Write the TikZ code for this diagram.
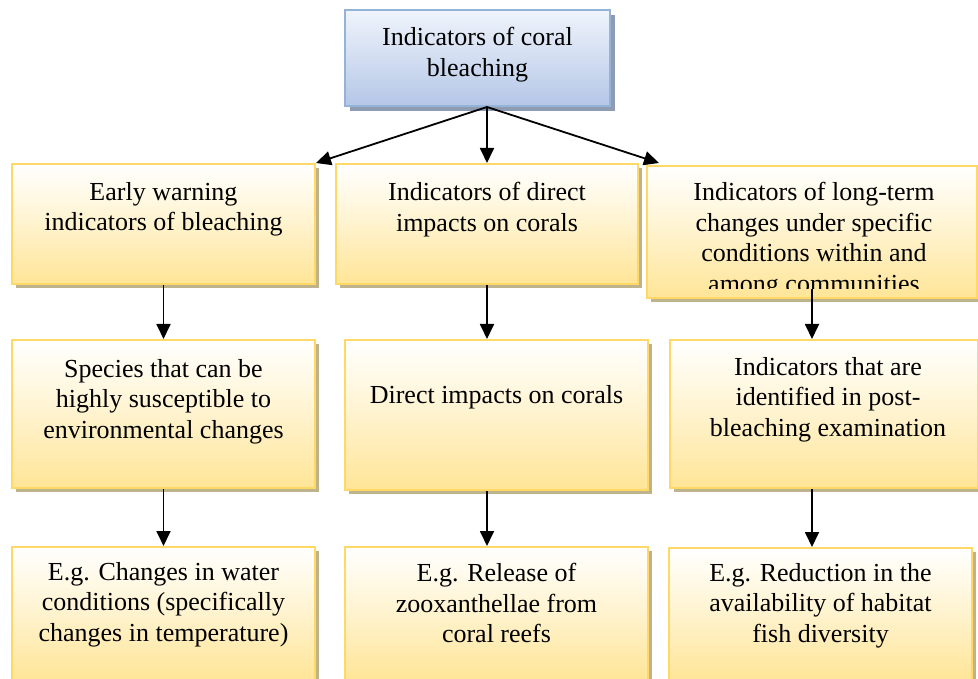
\documentclass[tikz,border=0pt]{standalone}
\usepackage{fontspec}
\setmainfont{Liberation Serif}
\usetikzlibrary{shadows,arrows.meta,calc}
\definecolor{ybord}{HTML}{FFD966}
\definecolor{ybot}{HTML}{FFE597}
\definecolor{ymid}{HTML}{FFF3CE}
\definecolor{yshad}{HTML}{BFB38C}
\definecolor{bbord}{HTML}{95B3D7}
\definecolor{btop}{HTML}{F0F4FB}
\definecolor{bbot}{HTML}{B4C7E7}
\definecolor{bshad}{HTML}{8D9BB3}
\begin{document}
\begin{tikzpicture}[x=1pt,y=-1pt,
  ybox/.style={rectangle, draw=ybord, line width=2pt, top color=white, bottom color=ybot, middle color=ymid,
    drop shadow={shadow xshift=4pt, shadow yshift=-4pt, fill=yshad, opacity=1}, inner sep=0pt},
  bbox/.style={rectangle, draw=bbord, line width=2pt, top color=btop, bottom color=bbot,
    drop shadow={shadow xshift=5pt, shadow yshift=-5pt, fill=bshad, opacity=1}, inner sep=0pt},
  txt/.style={font=\fontsize{26}{30.5}\selectfont, align=center, inner sep=0pt, anchor=north},
  arr/.style={line width=1.8pt, -{Triangle[length=15pt,width=14pt]}}
]
\useasboundingbox (0,0) rectangle (978,679);
% boxes
\node[bbox, minimum width=265pt, minimum height=96pt] (top) at (477.5,58) {};
\node[ybox, minimum width=303pt, minimum height=120pt] (b11) at (163.5,224) {};
\node[ybox, minimum width=302pt, minimum height=120pt] (b12) at (487,224) {};
\node[ybox, minimum width=330pt, minimum height=132pt] (b13) at (812,232) {};
\node[ybox, minimum width=303pt, minimum height=148pt] (b21) at (163.5,414) {};
\node[ybox, minimum width=303pt, minimum height=150pt] (b22) at (496.5,415) {};
\node[ybox, minimum width=308pt, minimum height=148pt] (b23) at (824,414) {};
\node[ybox, minimum width=303pt, minimum height=133pt] (b31) at (163.5,613.5) {};
\node[ybox, minimum width=303pt, minimum height=133pt] (b32) at (496.5,613.5) {};
\node[ybox, minimum width=303pt, minimum height=132pt] (b33) at (820.5,614) {};
% texts
\node[txt] (t0) at (477.5,27) {Indicators of coral\\bleaching};
\node[txt] (t11) at (163.5,182) {Early warning\\indicators of bleaching};
\node[txt] (t12) at (487,182) {Indicators of direct\\impacts on corals};
\begin{scope}
  \clip (b13.north west) rectangle ($(b13.south east)+(0,-10)$);
  \node[txt] (t13) at (814,182) {Indicators of long-term\\changes under specific\\conditions within and\\among communities};
\end{scope}
\node[txt] (t21) at (163.5,359) {Species that can be\\highly susceptible to\\environmental changes};
\node[txt] (t22) at (496.5,385) {Direct impacts on corals};
\node[txt] (t23) at (828,357) {Indicators that are\\identified in post-\\bleaching examination};
\node[txt] (t31) at (163.5,562) {E.g. Changes in water\\conditions (specifically\\changes in temperature)};
\node[txt] (t32) at (496.5,563) {E.g. Release of\\zooxanthellae from\\coral reefs};
\node[txt] (t33) at (820.5,563) {E.g. Reduction in the\\availability of habitat\\fish diversity};
% connectors
\coordinate (o) at (487,107);
\coordinate (e3) at ($(b13.north west)+(13,-2)$);
\draw[arr] (o) -- (b11.north east);
\draw[arr] (o) -- (b12.north);
\draw[arr] (o) -- (e3);
\draw[arr] (b11.south) -- (b21.north);
\draw[arr] (b21.south) -- (b31.north);
\draw[arr] (b12.south) -- (b12.south |- b22.north);
\draw[arr] (b12.south |- b22.south) -- (b12.south |- b32.north);
\draw[arr] ($(b13.south)+(0,-10)$) -- (b13.south |- b23.north);
\draw[arr] (b13.south |- b23.south) -- (b13.south |- b33.north);
\end{tikzpicture}
\end{document}
